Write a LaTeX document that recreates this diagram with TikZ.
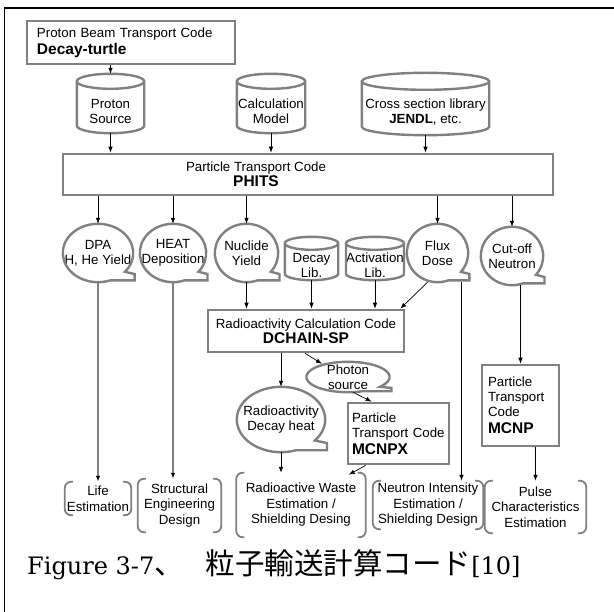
\documentclass[tikz,border=0pt]{standalone}
\usepackage{fontspec}
\newfontfamily\dia{Liberation Sans}
\newfontfamily\capfont{DejaVu Serif}
\newfontfamily\cjk{Noto Sans CJK JP}
\usetikzlibrary{ calc,        % For let and coordinate maths
                 arrows.meta, % For the arrow tips
               }
\definecolor{boxgray}{RGB}{128,128,128}
\newcommand{\diafont}{\dia\fontsize{13.3}{15}\selectfont}
\newcommand{\codename}[1]{{\fontsize{15.5}{17}\selectfont\bfseries #1}}

\tikzstyle{flow} = [-{Latex[length=6pt,width=4.5pt,color=black]}, line width=0.7pt]
\tikzstyle{longflow} = [flow, color=boxgray, line width=1.4pt]
\tikzstyle{codebox} = [rectangle, draw=boxgray, line width=2.6pt, font=\diafont]
\tikzstyle{bubble} = [rectangle, inner sep=0pt, align=center, font=\diafont]
\tikzstyle{drum} = [rectangle, inner sep=0pt, align=center, font=\diafont]
\tikzstyle{result} = [rectangle, inner sep=0pt, align=center, font=\dia\fontsize{13.3}{15.5}\selectfont]
\tikzstyle{callout line} = [draw=boxgray, line width=2.4pt]
\tikzstyle{drum line} = [draw=boxgray, line width=2.4pt]
\tikzstyle{bracket line} = [draw=boxgray, line width=1.8pt, rounded corners=6pt]

% oval with a small lip at the lower right
\newcommand{\callout}[1]{%
  \draw[callout line] let \p1=(#1.east), \p2=(#1.center), \p3=(#1.north),
      \n1={\x1-\x2}, \n2={\y3-\y2} in
    ({\x2+0.766*\n1},{\y2-0.643*\n2})
    arc[start angle=-40, end angle=290, x radius={\n1*1pt}, y radius={\n2*1pt}]
    -- ({\x2+1.04*\n1},{\y2-0.94*\n2}) -- ({\x2+1.04*\n1},{\y2-0.72*\n2}) -- cycle;
}
% cylinder round the body of a node, #2 = cap radius
\newcommand{\drum}[2]{%
  \draw[drum line] let \p1=(#1.north west), \p2=(#1.south east),
      \n1={(\x2-\x1)/2} in
    (\x1,{\y1+#2}) -- (\x1,{\y2+#2})
    arc[start angle=180, end angle=360, x radius={\n1*1pt}, y radius=#2]
    -- (\x2,{\y1+#2})
    ({\x1+\n1},{\y1+#2}) ellipse[x radius={\n1*1pt}, y radius=#2];
}
% pair of round brackets
\newcommand{\brackets}[1]{%
  \draw[bracket line] ([xshift=8pt]#1.north west) -- (#1.north west)
    -- (#1.south west) -- ([xshift=8pt]#1.south west);
  \draw[bracket line] ([xshift=-8pt]#1.north east) -- (#1.north east)
    -- (#1.south east) -- ([xshift=-8pt]#1.south east);
}

\begin{document}
\begin{tikzpicture}[x=1pt, y=-1pt]
  \useasboundingbox (0,0) rectangle (614,612);
  \draw[line width=1.6pt] (4.5,612) -- (4.5,8) -- (614,8);

  \node (turtle) [codebox, text width=188pt, inner xsep=10pt, minimum height=43pt, align=left] at (131,42.5) {Proton Beam Transport Code\\[2pt]\codename{Decay-turtle}};

  \node (prsrc) [drum, minimum width=67pt, minimum height=44pt] at (110.5,111) {Proton\\Source};
  \node (calc) [drum, minimum width=68pt, minimum height=44pt] at (271,111) {Calculation\\Model};
  \node (xsec) [drum, minimum width=127pt, minimum height=45pt] at (425.5,112.5) {Cross section library\\{\bfseries JENDL}, etc.};
  \drum{prsrc}{7.5pt}
  \drum{calc}{7.5pt}
  \drum{xsec}{8.5pt}
  \path [flow] (turtle.south -| prsrc.north) edge ([yshift=15pt]prsrc.north);

  \node (phits) [codebox, minimum width=490pt, minimum height=41pt] at (308,174.5) {};
  \node (phitstext) [font=\diafont, align=center] at (256,174.5) {Particle Transport Code\\\codename{PHITS}};
  \path [flow] (prsrc.south) edge (prsrc.south |- phits.north);
  \path [flow] (calc.south) edge (calc.south |- phits.north);
  \path [flow] (xsec.south) edge (xsec.south |- phits.north);

  \node (dpa) [bubble, minimum width=70pt, minimum height=58pt] at (98,253) {DPA\\H, He Yield};
  \node (heat) [bubble, minimum width=66pt, minimum height=58pt] at (173,253) {HEAT\\Deposition};
  \node (nuclide) [bubble, minimum width=63pt, minimum height=58pt] at (246.5,253) {Nuclide\\Yield};
  \node (flux) [bubble, minimum width=61pt, minimum height=58pt] at (437.5,253) {Flux\\Dose};
  \node (cutoff) [bubble, minimum width=62pt, minimum height=58pt] at (512,256) {Cut-off\\Neutron};
  \callout{dpa}
  \callout{heat}
  \callout{nuclide}
  \callout{flux}
  \callout{cutoff}
  \path [flow] (phits.south -| dpa.north) edge (dpa.north);
  \path [flow] (phits.south -| heat.north) edge (heat.north);
  \path [flow] (phits.south -| nuclide.north) edge (nuclide.north);
  \path [flow] (phits.south -| flux.north) edge (flux.north);
  \path [flow] (phits.south -| cutoff.north) edge (cutoff.north);

  \node (declib) [drum, minimum width=53pt, minimum height=30pt] at (311.5,265) {Decay\\Lib.};
  \node (actlib) [drum, minimum width=54pt, minimum height=30pt] at (375,265) {Activation\\Lib.};
  \drum{declib}{6.5pt}
  \drum{actlib}{6.5pt}

  \node (dchain) [codebox, minimum width=196pt, minimum height=42pt, align=center] at (306,331) {Radioactivity Calculation Code\\\codename{DCHAIN-SP}};
  \path [flow] (nuclide.south) edge (nuclide.south |- dchain.north);
  \path [flow] (declib.south) edge (declib.south |- dchain.north);
  \path [flow] (actlib.south) edge (actlib.south |- dchain.north);
  \path [flow] ([xshift=-10pt]flux.south) edge ([xshift=-5pt]dchain.north east);

  \node (photon) [bubble, minimum width=83pt, minimum height=30pt] at (348,377) {Photon\\source};
  \node (decayheat) [bubble, minimum width=88pt, minimum height=65pt] at (281,419.5) {Radioactivity\\Decay heat};
  \callout{photon}
  \callout{decayheat}
  \path [flow] ([xshift=-1pt]dchain.south) edge ([xshift=-26pt,yshift=-2pt]photon.north);
  \path [flow] (dchain.south -| decayheat.north) edge (decayheat.north);

  \node (mcnpx) [codebox, text width=93pt, inner xsep=4pt, minimum height=61pt, align=left] at (398.5,433.5) {Particle\\Transport Code\\[2pt]\codename{MCNPX}};
  \node (mcnp) [codebox, text width=65pt, inner xsep=6pt, minimum height=81pt, align=left] at (520.5,405.5) {Particle\\Transport\\Code\\[2pt]\codename{MCNP}};
  \path [flow] ([xshift=5pt]photon.south) edge ([xshift=25pt]mcnpx.north west);
  \path [flow] (cutoff.south -| mcnp.north) edge (mcnp.north);

  \node (life) [result, minimum width=66pt, minimum height=33pt] at (98,498.5) {Life\\Estimation};
  \node (struct) [result, minimum width=83pt, minimum height=53pt] at (179.5,505.5) {Structural\\Engineering\\Design};
  \node (waste) [result, minimum width=129pt, minimum height=64pt] at (301,505) {Radioactive Waste\\Estimation /\\Shielding Desing};
  \node (neutron) [result, minimum width=110pt, minimum height=48pt] at (428,505) {Neutron Intensity\\Estimation /\\Shielding Design};
  \node (pulse) [result, minimum width=101pt, minimum height=52pt] at (535.5,507) {Pulse\\Characteristics\\Estimation};
  \brackets{life}
  \brackets{struct}
  \brackets{waste}
  \brackets{neutron}
  \brackets{pulse}
  \path [longflow] (dpa.south) edge (dpa.south |- life.north);
  \path [longflow] (heat.south) edge (heat.south |- struct.north);
  \path [flow] (decayheat.south) edge (decayheat.south |- waste.north);
  \path [flow] ([xshift=19pt]mcnpx.south west) edge ([xshift=-17pt,yshift=-2pt]waste.north east);
  \path [flow] ([xshift=24pt]flux.south) edge ([xshift=24pt]flux.south |- neutron.north);
  \path [flow] (mcnp.south -| pulse.north) edge (pulse.north);

  \node (caption) [anchor=base west, inner sep=0pt, font=\capfont\fontsize{24}{30}\selectfont] at (27,575) {Figure 3-7{\cjk\fontsize{29.5}{30}\selectfont 、}\hspace{22pt}{\cjk\fontsize{29.5}{30}\selectfont 粒子輸送計算コード}[10]};
\end{tikzpicture}
\end{document}
